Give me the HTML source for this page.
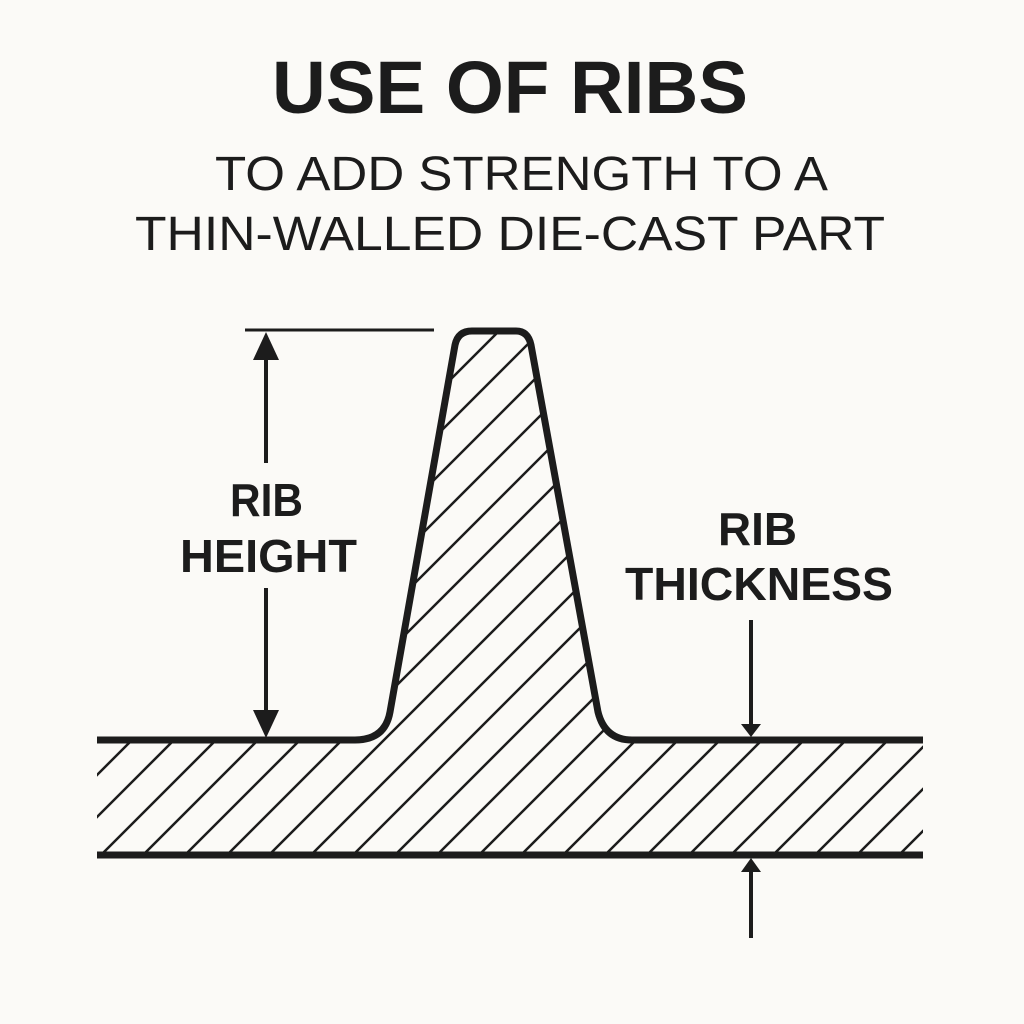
<!DOCTYPE html>
<html><head><style>
body{margin:0;background:#fbfaf7;}
svg{display:block}
text{font-family:"Liberation Sans",sans-serif;fill:#1c1c1c}
</style></head><body>
<svg width="1024" height="1024" viewBox="0 0 1024 1024" xmlns="http://www.w3.org/2000/svg">
<rect width="1024" height="1024" fill="#fbfaf7"/>
<text x="272" y="113" font-size="74" font-weight="bold" textLength="476" lengthAdjust="spacingAndGlyphs">USE OF RIBS</text>
<text x="215" y="190" font-size="48" textLength="613" lengthAdjust="spacingAndGlyphs">TO ADD STRENGTH TO A</text>
<text x="135" y="250" font-size="48" textLength="750" lengthAdjust="spacingAndGlyphs">THIN-WALLED DIE-CAST PART</text>
<defs>
<clipPath id="c">
<path d="M97 740 L355 740 Q385 740 390 712 L455 345 Q458 331 472 331 L516 331 Q528 331 531 345 L598 712 Q605 740 632 740 L923 740 L923 855 L97 855 Z"/>
</clipPath>
</defs>
<g clip-path="url(#c)" stroke="#1c1c1c" stroke-width="2.5">
<path d="M-800 1000 L200 0 M-758 1000 L242 0 M-716 1000 L284 0 M-674 1000 L326 0 M-632 1000 L368 0 M-590 1000 L410 0 M-548 1000 L452 0 M-506 1000 L494 0 M-464 1000 L536 0 M-422 1000 L578 0 M-380 1000 L620 0 M-338 1000 L662 0 M-296 1000 L704 0 M-254 1000 L746 0 M-212 1000 L788 0 M-170 1000 L830 0 M-128 1000 L872 0 M-86 1000 L914 0 M-44 1000 L956 0 M-2 1000 L998 0 M40 1000 L1040 0 M82 1000 L1082 0 M124 1000 L1124 0 M166 1000 L1166 0 M208 1000 L1208 0 M250 1000 L1250 0 M292 1000 L1292 0 M334 1000 L1334 0 M376 1000 L1376 0 M418 1000 L1418 0 M460 1000 L1460 0 M502 1000 L1502 0 M544 1000 L1544 0 M586 1000 L1586 0 M628 1000 L1628 0 M670 1000 L1670 0 M712 1000 L1712 0 M754 1000 L1754 0 M796 1000 L1796 0 M838 1000 L1838 0 M880 1000 L1880 0 M922 1000 L1922 0"/>
</g>
<g fill="none" stroke="#1c1c1c" stroke-width="7">
<path d="M97 740 L355 740 Q385 740 390 712 L455 345 Q458 331 472 331 L516 331 Q528 331 531 345 L598 712 Q605 740 632 740 L923 740"/>
<path d="M97 855 L923 855"/>
</g>
<g stroke="#1c1c1c" stroke-width="4" fill="#1c1c1c">
<line x1="245" y1="330" x2="434" y2="330" stroke-width="3"/>
<line x1="266" y1="355" x2="266" y2="463"/>
<line x1="266" y1="588" x2="266" y2="715"/>
<path d="M266 332 L253 360 L279 360 Z" stroke="none"/>
<path d="M266 738 L253 710 L279 710 Z" stroke="none"/>
<line x1="751" y1="620" x2="751" y2="725"/>
<path d="M751 737 L741 724 L761 724 Z" stroke="none"/>
<line x1="751" y1="870" x2="751" y2="938"/>
<path d="M751 858 L741 872 L761 872 Z" stroke="none"/>
</g>
<g font-weight="bold" font-size="46">
<text x="230" y="516" textLength="73" lengthAdjust="spacingAndGlyphs">RIB</text>
<text x="180" y="572" textLength="177" lengthAdjust="spacingAndGlyphs">HEIGHT</text>
<text x="718" y="545" textLength="79" lengthAdjust="spacingAndGlyphs">RIB</text>
<text x="625" y="600" textLength="268" lengthAdjust="spacingAndGlyphs">THICKNESS</text>
</g>
</svg>
</body></html>
